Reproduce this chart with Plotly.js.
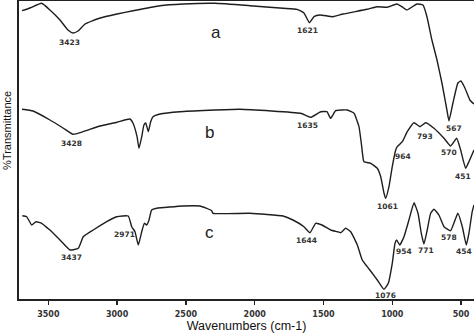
<!DOCTYPE html>
<html>
<head>
<meta charset="utf-8">
<script src="https://cdn.plot.ly/plotly-3.0.1.min.js"></script>
<style>html,body{margin:0;padding:0;background:#fff;}#chart{width:474px;height:333px;}</style>
</head>
<body>
<div id="chart"></div>
<script>
// Wavenumbers (cm-1) and relative transmittance (arbitrary units, offset per spectrum)
const waveA = [3691,3633,3548,3488,3415,3357,3320,3284,3233,3124,3001,2884,2688,2521,2289,2034,1794,1693,1642,1602,1569,1526,1431,1358,1184,1111,1039,966,930,893,821,777,748,712,675,639,603,588,559,523,501,472,436,406];
const transA = [289.3,292,296.7,290,280,270,267,269,276,282,286,289.3,294.3,296,296.7,294.3,291.7,290.7,287,277.3,283.3,285,283.3,286,290.7,293.3,292.7,296,293.3,290,296,295,283.3,260,240,217,190,179,197,217,219,212,200,196];

const waveB = [3691,3611,3488,3393,3320,3248,3124,3001,2906,2884,2855,2841,2821,2805,2792,2773,2756,2739,2688,2543,2107,1666,1593,1520,1475,1448,1411,1327,1278,1242,1222,1206,1157,1109,1084,1060,1048,1024,1000,975,964,927,891,842,799,757,697,624,576,532,503,467,443,406];
const transB = [190.7,189,180,172,165.7,168.3,174,177.7,181,176.7,163.3,151.7,163.3,175,177,168.3,178.3,183.3,186,188.3,190.7,186.7,182.7,188.3,188.3,181.7,189.3,190,186.7,173.3,153.3,138.3,136.7,131.7,123.3,106.7,101.7,113.3,133.3,150,153.3,158.3,168.3,177.3,173.3,177.3,171.7,161.7,154,161.7,150,131.7,138.3,150];

const waveC = [3689,3657,3621,3589,3548,3524,3488,3415,3342,3282,3246,3173,3076,3003,2919,2894,2870,2846,2821,2802,2785,2768,2749,2712,2521,2398,2313,2303,2034,1794,1722,1642,1598,1557,1511,1448,1400,1375,1339,1302,1254,1218,1182,1145,1109,1060,1029,1000,980,968,946,915,879,842,813,789,770,746,721,697,661,624,576,539,523,491,462,443,419,406];
const transC = [84.3,83.3,75,78.3,76.7,74,70,60,50,51.7,63.3,70,78.3,83.3,84,73.3,68.3,55,68.3,76.7,75,80,90,91.7,94,94,89.3,86.7,86.7,84,80,73.3,67.3,76.7,75,70,68.3,67.3,71.7,68.3,55,40,33.3,26.7,20,10.7,16.7,36.7,56.7,60,55,63.3,80,97.3,86.7,66.7,56,70,86.7,90.7,85,73.3,69.3,81.7,86.7,73.3,55,66.7,88.3,95];

const xTicks = [3500,3000,2500,2000,1500,1000,500];
const xTickText = ['3500','3000','2500','2000','1500','1000','500'];
const seriesNames = ['a','b','c'];

const lineStyle = {color:'#1e1e1e', width:1.4, shape:'spline', smoothing:0.4};
const traces = [
  {x:waveA, y:transA, name:seriesNames[0]},
  {x:waveB, y:transB, name:seriesNames[1]},
  {x:waveC, y:transC, name:seriesNames[2]}
].map(t => Object.assign(t, {type:'scatter', mode:'lines', line:lineStyle, hoverinfo:'skip'}));

const pk = {family:'DejaVu Sans', size:7.5, color:'#333', weight:'bold'};
const lt = {family:'Liberation Sans, Arial, sans-serif', size:17, color:'#222'};
function lab(text, x, y, font){
  return {text:text, x:x, y:y, xref:'x', yref:'y', showarrow:false, xanchor:'center', yanchor:'middle', font:font||pk};
}
const annotations = [
  lab('3423',3346,258), lab('1621',1618,269.3), lab('567',552,172), lab('a',2281,267.7,lt),
  lab('3428',3330,157), lab('1635',1613,174.3), lab('1061',1034,93.3), lab('964',922,144),
  lab('793',763,164), lab('570',588,147.7), lab('451',487,124), lab('b',2332,167.7,lt),
  lab('3437',3335,42.7), lab('2971',2943,65.7), lab('1644',1627,59.3), lab('1076',1046,4.3),
  lab('954',915,48.3), lab('771',755,50), lab('578',588,62.7), lab('454',479,48.3), lab('c',2332,67.3,lt),
  {text:'%Transmittance', xref:'paper', yref:'paper', x:-0.028, y:0.565, textangle:-90, showarrow:false,
   xanchor:'center', yanchor:'middle', font:{family:'Liberation Sans, Arial, sans-serif', size:11, color:'#111'}}
];

const layout = {
  width:474, height:333,
  margin:{l:19, r:0, t:1, b:34, pad:0},
  paper_bgcolor:'#fff', plot_bgcolor:'#fff',
  showlegend:false,
  xaxis:{
    range:[3713,406], tickvals:xTicks, ticktext:xTickText,
    ticks:'outside', ticklen:4, tickwidth:1.5, tickcolor:'#222',
    showline:true, linewidth:2, linecolor:'#222', mirror:true,
    showgrid:false, zeroline:false, ticklabelstandoff:2,
    tickfont:{family:'DejaVu Sans', size:8, color:'#333', weight:'bold'},
    title:{text:'Wavenumbers (cm-1)', standoff:5, font:{family:'Liberation Sans Narrow, Liberation Sans, Arial, sans-serif', size:12.5, color:'#111'}}
  },
  yaxis:{
    range:[1,299], showticklabels:false, ticks:'', showgrid:false, zeroline:false,
    showline:true, linewidth:2, linecolor:'#222'
  },
  annotations:annotations
};

Plotly.newPlot('chart', traces, layout, {staticPlot:true, displayModeBar:false});
</script>
</body>
</html>
